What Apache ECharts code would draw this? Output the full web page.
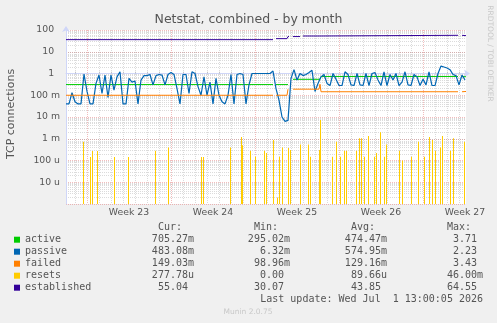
<!DOCTYPE html>
<html>
<head>
<meta charset="utf-8">
<script src="https://cdn.jsdelivr.net/npm/echarts@6/dist/echarts.min.js"></script>
<style>
html,body{margin:0;padding:0;background:#F0F0F0;}
#chart{width:497px;height:323px;}
</style>
</head>
<body>
<div id="chart"></div>
<script>
// x axis = hours since left edge of graph (800h ~ one month)
var weekStarts = [42, 210, 378, 546, 714];
var weekLabelPos = [126, 294, 462, 630, 798];
var weekLabels = ['Week 23', 'Week 24', 'Week 25', 'Week 26', 'Week 27'];
// y tick labels, index = exponent + 6
var yTickLabels = ['', '10 u', '100 u', '1 m', '10 m', '100 m', '1  ', '10  ', '100  '];

// passive: one sample every 6 hours
var passiveStep = 6;
var passive = [
  0.04, 0.04, 0.13, 0.05, 0.04, 0.04, 0.95, 0.15, 0.04, 0.04,
  0.35, 0.85, 0.12, 0.85, 0.08, 0.85, 0.17, 0.7, 1.2, 0.04,
  0.04, 0.6, 0.4, 0.45, 0.04, 0.5, 0.8, 0.8, 0.9, 0.3,
  0.8, 0.9, 0.85, 0.3, 0.9, 1.1, 0.9, 0.2, 0.04, 0.9,
  0.9, 0.12, 1.2, 1.0, 0.25, 0.1, 0.7, 0.1, 0.4, 0.04,
  0.6, 0.1, 0.05, 0.04, 0.1, 0.9, 0.04, 0.9, 1.0, 0.9,
  0.04, 0.3, 1.0, 1.0, 1.0, 1.0, 1.0, 1.0, 1.0, 1.3,
  0.2, 0.06, 0.01, 0.0063, 0.007, 0.6, 1.5, 0.5, 1.0, 0.8,
  0.9, 1.1, 1.4, 0.15, 0.35, 0.7, 0.9, 0.35, 0.28, 1.0,
  0.55, 0.28, 0.28, 1.2, 0.9, 0.3, 0.28, 1.0, 0.3, 0.28,
  1.0, 0.28, 1.0, 1.1, 0.5, 0.28, 1.2, 0.28, 0.9, 0.5,
  1.0, 0.28, 0.4, 1.2, 0.3, 0.28, 0.9, 0.7, 0.28, 0.55,
  0.3, 1.2, 0.28, 0.28, 1.0, 2.2, 2.0, 1.8, 1.5, 0.9,
  0.8, 0.3, 0.85, 0.5
];

var active = [[0, 0.31], [414, 0.31], [418, '-'], [420, 0.31], [444, 0.31], [448, '-'],
  [454, 0.54], [508, 0.54], [510, 0.73], [784, 0.73], [788, '-'], [792, 0.73], [800, 0.71]];

var failed = [[0, 0.10], [414, 0.10], [418, '-'], [420, 0.10], [442, 0.10], [444, 0.19], [448, '-'],
  [454, 0.19], [506, 0.19], [508, 0.32], [510, 0.145], [784, 0.145], [788, '-'], [792, 0.145], [800, 0.149]];

var established = [[0, 36], [414, 36], [418, '-'], [420, 40], [442, 40], [444, 50], [446, 50], [448, '-'],
  [454, 50], [468, 50], [471, '-'], [474, 53], [506, 53], [508, 57], [784, 57], [788, '-'], [792, 57], [800, 55]];

// resets: only the non-zero spikes [hour, value]
var resets = [
  [33, 7.3e-4], [47, 1.45e-4], [51, 2.76e-4], [61, 2.76e-4], [95, 1.45e-4], [123, 1.45e-4],
  [177, 2.8e-4], [203, 4.0e-4], [270, 1.45e-4], [273, 1.45e-4], [327, 4.0e-4], [349, 1.2e-3],
  [352, 5.0e-4], [368, 2.8e-4], [377, 1.5e-4], [396, 2.8e-4], [400, 2.2e-4], [413, 8.7e-4],
  [421, 2e-6], [425, 1.5e-4], [432, 4.0e-4], [443, 3.8e-4], [447, 3.0e-4], [467, 5.5e-4],
  [483, 5.5e-4], [488, 1.5e-4], [505, 3.0e-4], [508, 7.2e-3], [531, 1.5e-4], [539, 7.3e-4],
  [547, 1.5e-4], [555, 2.8e-4], [560, 2.8e-4], [580, 2.8e-4], [585, 1.05e-3], [589, 1.05e-3],
  [595, 1.5e-4], [603, 1.35e-3], [615, 1.5e-4], [619, 2.2e-4], [627, 2.0e-3], [635, 1.5e-4],
  [640, 5.5e-4], [665, 2.8e-4], [671, 1.0e-4], [689, 1.5e-4], [703, 7.3e-4], [716, 1.5e-4],
  [725, 1.2e-3], [731, 8.7e-4], [737, 2.8e-4], [748, 4.0e-4], [752, 1.35e-3], [768, 2.8e-4],
  [773, 1.05e-3], [796, 7.3e-4]
];

var seriesNames = ['active', 'passive', 'failed', 'resets', 'established'];
var seriesColors = ['#00CC00', '#0066B3', '#FF8000', '#FFCC00', '#330099'];
var curVals = ['705.27m', '483.08m', '149.03m', '277.78u', '55.04 '];
var minVals = ['295.02m', '6.32m', '98.96m', '0.00 ', '30.07 '];
var avgVals = ['474.47m', '574.95m', '129.16m', '89.66u', '43.85 '];
var maxVals = ['3.71 ', '2.23 ', '3.43 ', '46.00m', '64.55 '];
var colHeads = ['Cur:', 'Min:', 'Avg:', 'Max:'];
var lastUpdate = 'Last update: Wed Jul  1 13:00:05 2026';

var yMin = 1e-6, yMax = 100;

// grid helper lines
var dayTicks = [];
for (var h = 18; h < 800; h += 24) {
  if ((h - 42) % 168 !== 0) dayTicks.push(h);
}
var minorY = [];
for (var n = -6; n < 2; n++) {
  for (var k = 2; k <= 9; k++) minorY.push(n + Math.log10(k));
}

var gridColor = 'rgba(143,143,143,0.32)';
var mgridColor = 'rgba(222,79,79,0.38)';
var axisColor = '#CFD6F8';
var fontColor = '#555';
var sans = '"DejaVu Sans", sans-serif';
var mono = '"DejaVu Sans Mono", monospace';

var passiveData = passive.map(function (v, i) { return [i * passiveStep, v]; });

function lineSeries(idx, data, width) {
  return {
    name: seriesNames[idx], type: 'line', data: data,
    xAxisIndex: 0, yAxisIndex: 0,
    showSymbol: false, symbol: 'none', animation: false,
    itemStyle: {color: seriesColors[idx]},
    lineStyle: {color: seriesColors[idx], width: width || 1},
    z: 3 + idx
  };
}

var graphics = [
  {type: 'text', x: 248.5, y: 19.5, style: {text: 'Netstat, combined - by month', font: '12.5px ' + sans, fill: fontColor, align: 'center', verticalAlign: 'middle'}},
  {type: 'text', x: 11, y: 114, rotation: Math.PI / 2, style: {text: 'TCP connections', font: '11px ' + sans, fill: fontColor, align: 'center', verticalAlign: 'middle'}},
  {type: 'text', x: 490, y: 53.5, rotation: -Math.PI / 2, style: {text: 'RRDTOOL / TOBI OETIKER', font: '7.5px ' + sans, fill: '#c8c8c8', align: 'center', verticalAlign: 'middle'}},
  {type: 'text', x: 483, y: 299.3, style: {text: lastUpdate, font: '10px ' + mono, fill: fontColor, align: 'right', verticalAlign: 'middle'}},
  {type: 'text', x: 248, y: 312, style: {text: 'Munin 2.0.75', font: '7.5px ' + sans, fill: '#c8c8c8', align: 'center', verticalAlign: 'middle'}}
];
var colRight = [194, 290, 387, 483];
var cols = [curVals, minVals, avgVals, maxVals];
colHeads.forEach(function (t, c) {
  graphics.push({type: 'text', x: colRight[c] - 12, y: 227.7, style: {text: t, font: '10px ' + mono, fill: fontColor, align: 'right', verticalAlign: 'middle'}});
  cols[c].forEach(function (v, r) {
    graphics.push({type: 'text', x: colRight[c], y: 239.7 + 12 * r, style: {text: v, font: '10px ' + mono, fill: fontColor, align: 'right', verticalAlign: 'middle'}});
  });
});

var chart = echarts.init(document.getElementById('chart'), null, {renderer: 'canvas'});
chart.setOption({
  backgroundColor: '#F0F0F0',
  animation: false,
  grid: {left: 66, top: 30, width: 400, height: 174, show: true, backgroundColor: '#FFFFFF', borderWidth: 0},
  legend: {
    orient: 'vertical', left: 14, top: 233.7, padding: 0, itemWidth: 6, itemHeight: 6, itemGap: 0,
    icon: 'rect', selectedMode: false, data: seriesNames,
    textStyle: {fontFamily: mono, fontSize: 10, lineHeight: 12, color: fontColor}
  },
  xAxis: [
    {
      type: 'value', min: 0, max: 800, position: 'bottom',
      axisLine: {show: true, lineStyle: {color: axisColor, width: 1}, symbol: ['none', 'arrow'], symbolSize: [6, 6], symbolOffset: [0, 4]},
      axisTick: {show: true, inside: true, length: 2, customValues: dayTicks, lineStyle: {color: gridColor}},
      splitLine: {show: true, lineStyle: {color: gridColor, type: [1, 1], width: 1}},
      axisLabel: {
        customValues: weekLabelPos, margin: 4, color: fontColor, fontFamily: sans, fontSize: 9.3,
        formatter: function (v) {
          var i = weekLabelPos.indexOf(Math.round(v));
          return i >= 0 ? weekLabels[i] : '';
        }
      }
    },
    {
      type: 'value', min: 0, max: 800, position: 'bottom',
      axisLine: {show: false}, axisLabel: {show: false},
      axisTick: {show: false, customValues: weekStarts},
      splitLine: {show: true, lineStyle: {color: mgridColor, type: [1, 1], width: 1}}
    }
  ],
  yAxis: [
    {
      type: 'log', logBase: 10, min: yMin, max: yMax, splitNumber: 8,
      axisLine: {show: true, lineStyle: {color: axisColor, width: 1}, symbol: ['none', 'arrow'], symbolSize: [6, 6], symbolOffset: [0, 4]},
      axisTick: {show: false},
      splitLine: {show: true, lineStyle: {color: mgridColor, type: [1, 1], width: 1}},
      axisLabel: {
        margin: 6, color: fontColor, fontFamily: sans, fontSize: 9.3, showMinLabel: true, showMaxLabel: true,
        formatter: function (v) {
          var e = Math.round(Math.log10(v));
          return yTickLabels[e + 6] || '';
        }
      }
    },
    {
      type: 'value', min: -6, max: 2, position: 'right',
      axisLine: {show: false}, axisLabel: {show: false},
      axisTick: {show: false, customValues: minorY},
      splitLine: {show: true, lineStyle: {color: gridColor, type: [1, 1], width: 1}}
    }
  ],
  series: [
    lineSeries(0, active, 1),
    lineSeries(1, passiveData, 1.2),
    lineSeries(2, failed, 1),
    {
      name: 'resets', type: 'custom', xAxisIndex: 0, yAxisIndex: 0, z: 6,
      itemStyle: {color: seriesColors[3]},
      encode: {x: 0, y: 1},
      clip: true,
      data: resets,
      renderItem: function (params, api) {
        var top = api.coord([api.value(0), api.value(1)]);
        var base = api.coord([api.value(0), yMin]);
        var x = Math.round(top[0]);
        return {
          type: 'rect',
          shape: {x: x, y: top[1], width: 1, height: base[1] - top[1]},
          style: {fill: seriesColors[3]}
        };
      }
    },
    lineSeries(4, established, 1)
  ],
  graphic: graphics
});
</script>
</body>
</html>
